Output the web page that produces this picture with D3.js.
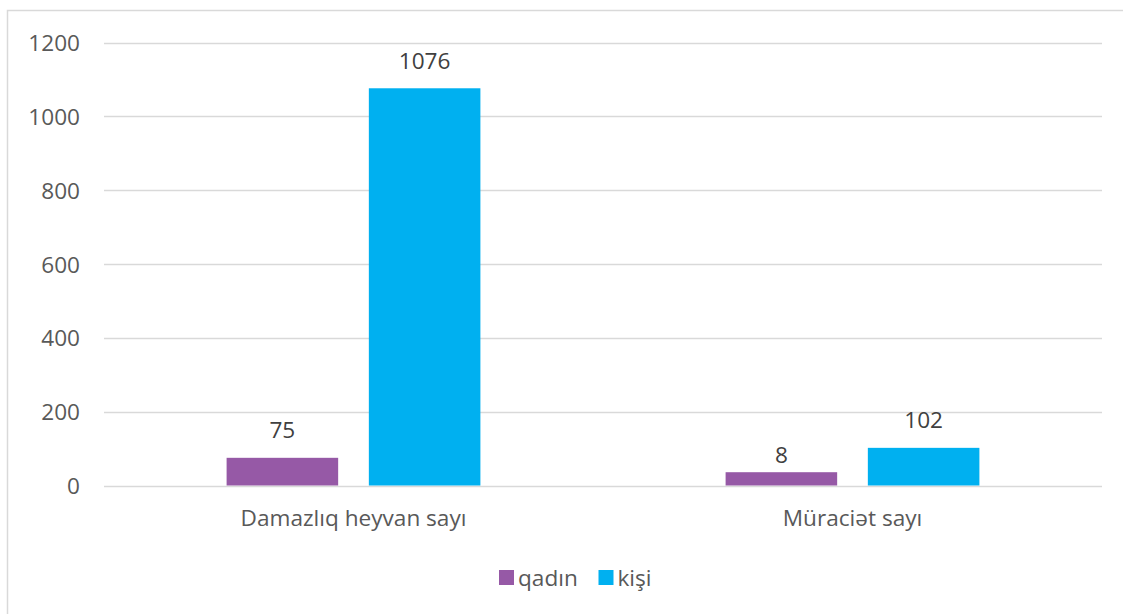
<!DOCTYPE html>
<html>
<head>
<meta charset="utf-8">
<script src="https://cdn.jsdelivr.net/npm/d3@7"></script>
<style>
  html, body { margin: 0; padding: 0; background: #fff; }
  svg { display: block; font-family: "Open Sans", "Noto Sans", sans-serif; }
</style>
</head>
<body>
<svg id="chart" width="1123" height="614"></svg>
<script>
// ---- data ----
const categories = ["Damazlıq heyvan sayı", "Müraciət sayı"];
const seriesNames = ["qadın", "kişi"];
const qadinValues = [75, 8];          // data labels
const qadinBarValues = [75, 36];      // bar heights as drawn in the reference
const kisiValues = [1076, 102];
const kisiBarValues = [1076, 102];
const yTicks = [0, 200, 400, 600, 800, 1000, 1200];
const colors = ["#9659A6", "#00B0F0"];

// ---- layout ----
const FS = 22.6;
const svg = d3.select("#chart");
const plot = { left: 104, right: 1102, top: 42.5, bottom: 485.5 };

// outer border
svg.append("rect")
  .attr("x", 7.5).attr("y", 10.5)
  .attr("width", 1200).attr("height", 700)
  .attr("fill", "none").attr("stroke", "#d9d9d9").attr("stroke-width", 1.5);

const y = d3.scaleLinear().domain([0, 1200]).range([plot.bottom, plot.top]);
const x0 = d3.scaleBand().domain(categories).range([plot.left, plot.right]).padding(0);
const bandInnerPad = 122.6;
const x1 = d3.scaleBand().domain(seriesNames)
  .range([bandInnerPad, x0.bandwidth() - bandInnerPad])
  .paddingInner(0.2157).paddingOuter(0);

// gridlines
svg.append("g").selectAll("line").data(yTicks).join("line")
  .attr("x1", plot.left).attr("x2", plot.right)
  .attr("y1", d => Math.round(y(d)) + 0.5).attr("y2", d => Math.round(y(d)) + 0.5)
  .attr("stroke", "#d9d9d9").attr("stroke-width", 1.5);

// y axis labels
const yAxis = d3.axisLeft(y).tickValues(yTicks).tickFormat(d3.format("d")).tickSize(0).tickPadding(0);
const yg = svg.append("g").attr("transform", "translate(80,0)").call(yAxis);
yg.select(".domain").remove();
yg.selectAll("text").attr("font-size", FS).attr("fill", "#595959")
  .attr("font-family", "'Open Sans', sans-serif").attr("dy", "0.36em");

// x axis labels
const xAxis = d3.axisBottom(x0).tickSize(0).tickPadding(0);
const xg = svg.append("g").attr("transform", "translate(0,510)").call(xAxis);
xg.select(".domain").remove();
xg.selectAll("text").attr("font-size", FS).attr("fill", "#595959")
  .attr("font-family", "'Open Sans', sans-serif").attr("dy", "0.71em");

// bars
const rows = categories.map((c, i) => ({
  cat: c,
  items: [
    { s: seriesNames[0], bar: qadinBarValues[i], label: qadinValues[i], color: colors[0] },
    { s: seriesNames[1], bar: kisiBarValues[i], label: kisiValues[i], color: colors[1] }
  ]
}));

const groups = svg.append("g").selectAll("g").data(rows).join("g")
  .attr("transform", d => `translate(${x0(d.cat)},0)`);

groups.selectAll("rect").data(d => d.items).join("rect")
  .attr("x", d => x1(d.s))
  .attr("width", x1.bandwidth())
  .attr("y", d => y(d.bar))
  .attr("height", d => y(0) - y(d.bar))
  .attr("fill", d => d.color);

groups.selectAll("text").data(d => d.items).join("text")
  .attr("x", d => x1(d.s) + x1.bandwidth() / 2)
  .attr("y", d => y(d.label) - 19.5)
  .attr("text-anchor", "middle")
  .attr("font-size", FS).attr("fill", "#404040")
  .text(d => d.label);

// legend
const legendItems = [
  { name: seriesNames[0], color: colors[0], x: 499 },
  { name: seriesNames[1], color: colors[1], x: 598.5 }
];
const lg = svg.append("g").selectAll("g").data(legendItems).join("g")
  .attr("transform", d => `translate(${d.x},570)`);
lg.append("rect").attr("width", 15).attr("height", 15).attr("fill", d => d.color);
lg.append("text").attr("x", 19).attr("y", 7.5).attr("dy", "0.36em")
  .attr("font-size", FS).attr("fill", "#595959").text(d => d.name);
</script>
</body>
</html>
